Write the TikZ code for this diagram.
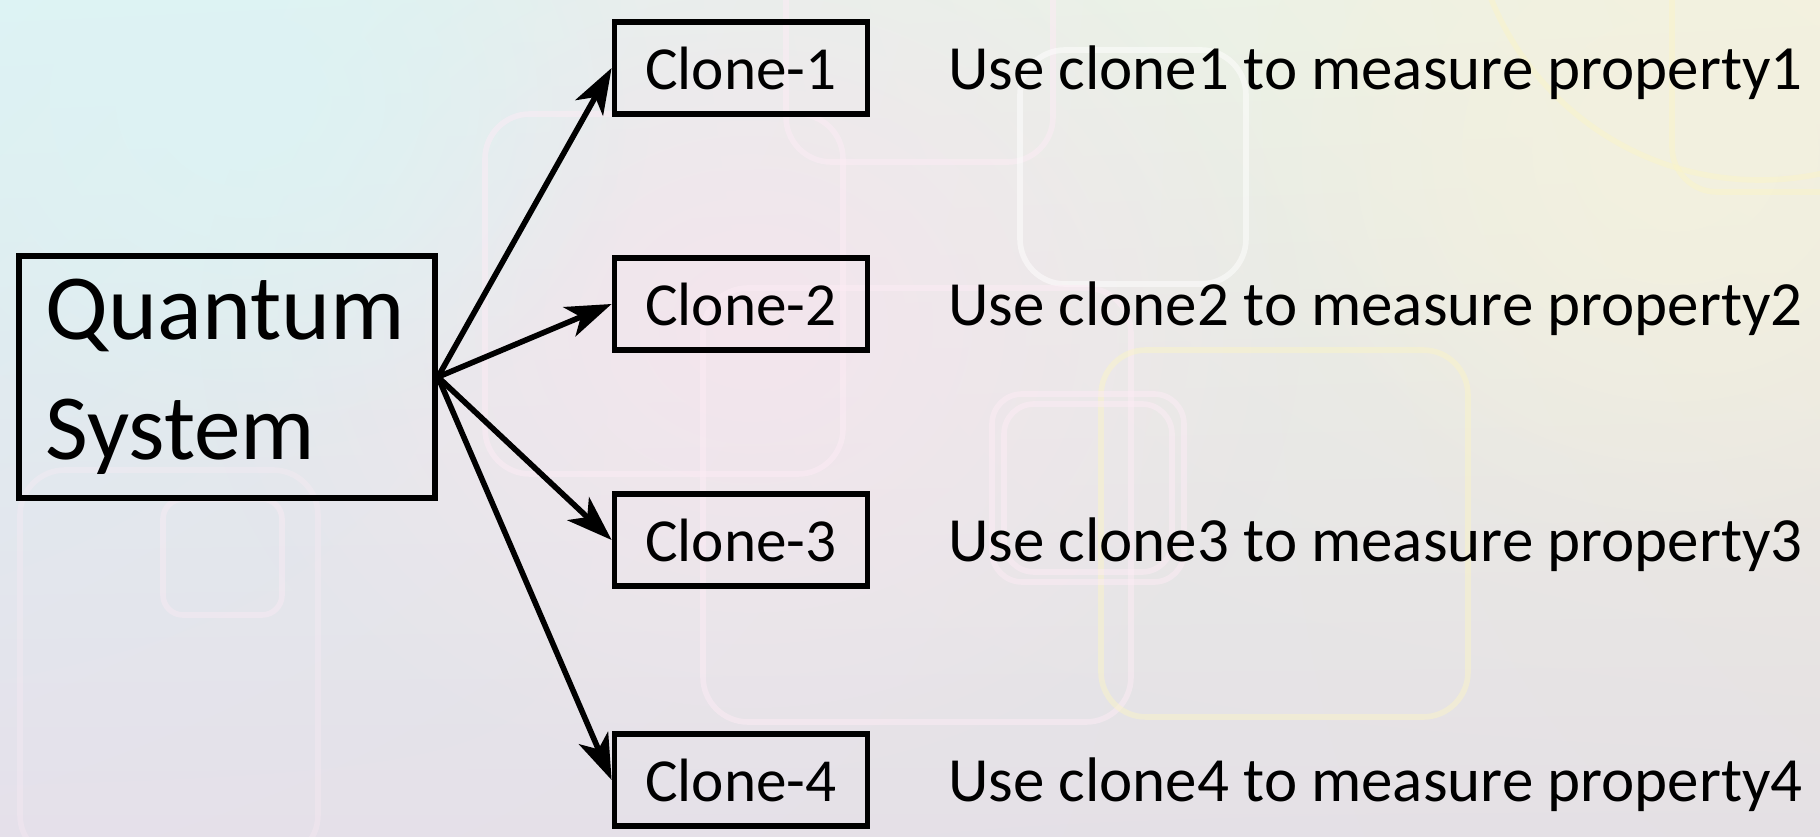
\documentclass[tikz,border=0pt]{standalone}
\usepackage{fontspec}
\setmainfont{Carlito}
\usepackage{xcolor}
\usepackage{tikz}
\definecolor{bgcyan}{RGB}{221, 243, 244}
\definecolor{bgpink}{RGB}{244, 229, 237}
\definecolor{bgcream}{RGB}{243, 241, 223}
\definecolor{bglilac}{RGB}{229, 224, 234}
\definecolor{bgmist}{RGB}{228, 224, 228}
\definecolor{glowpink}{RGB}{253, 236, 245}
\definecolor{glowgold}{RGB}{250, 244, 200}
\usetikzlibrary{shapes,arrows.meta,positioning,fadings,shadings}
\tikzfading[name=glowfade, inner color=transparent!0, outer color=transparent!100]

\begin{document}
\begin{tikzpicture}[x=0.01cm, y=-0.01cm,
    clonebox/.style={draw=black, line width=1.6pt, minimum width=2.53cm, minimum height=0.92cm, inner sep=0pt, font=\fontsize{17.4}{21}\selectfont},
    usetext/.style={anchor=base west, inner sep=0pt, font=\fontsize{17.9}{21}\selectfont},
    glowline/.style={line width=1.6pt, rounded corners=0.45cm, opacity=0.5},
    fan/.style={-{Stealth[length=13pt, width=9pt, inset=3.5pt]}, line width=1.6pt, black}]
    % background
    \useasboundingbox (0,0) rectangle (1820,837);
    \begin{scope}
    \clip (0,0) rectangle (1820,837);
    \shade[upper left=bgcyan, upper right=bgcream, lower left=bglilac, lower right=bgmist] (0,0) rectangle (1820,837);
    \fill[bgpink, path fading=glowfade] (200,-150) rectangle (1300,800);
    \fill[bgcyan, path fading=glowfade] (-150,-250) rectangle (650,450);
    \fill[bgcream, path fading=glowfade] (1250,-250) rectangle (2100,550);
    \draw[glowline, glowpink] (485,114) rectangle (843,474);
    \draw[glowline, glowpink] (786,-60) rectangle (1053,162);
    \draw[glowline, white] (1020,50) rectangle (1246,284);
    \draw[glowline, glowpink] (703,288) rectangle (1131,722);
    \draw[glowline, glowgold] (1101,350) rectangle (1468,717);
    \draw[glowline, glowpink, rounded corners=0.3cm] (992,394) rectangle (1184,582);
    \draw[glowline, glowpink, rounded corners=0.3cm] (1004,404) rectangle (1172,572);
    \draw[glowline, glowpink, rounded corners=0.2cm, opacity=0.4] (163,499) rectangle (282,615);
    \draw[glowline, glowpink, opacity=0.3] (20,470) rectangle (318,860);
    \draw[glowline, glowgold] (1672,-60) rectangle (1900,192);
    \draw[glowline, glowgold] (1760,-110) circle (290);
    \end{scope}
    % nodes
    \node[draw=black, line width=1.6pt, minimum width=4.16cm, minimum height=2.42cm, text width=3.62cm, inner xsep=0.27cm, align=left, font=\fontsize{26.5}{34.2}\selectfont] (qs) at (227,377) {Quantum\\System};
    \node[clonebox] (c1) at (741,68) {Clone-1};
    \node[clonebox] (c2) at (741,304) {Clone-2};
    \node[clonebox] (c3) at (741,540) {Clone-3};
    \node[clonebox] (c4) at (741,780) {Clone-4};
    \node[usetext] (u1) at ([xshift=0.77cm]c1.base east) {Use clone1 to measure property1};
    \node[usetext] (u2) at ([xshift=0.77cm]c2.base east) {Use clone2 to measure property2};
    \node[usetext] (u3) at ([xshift=0.77cm]c3.base east) {Use clone3 to measure property3};
    \node[usetext] (u4) at ([xshift=0.77cm]c4.base east) {Use clone4 to measure property4};
    % arrows
    \draw[fan] (qs.east) -- (c1.west);
    \draw[fan] (qs.east) -- (c2.west);
    \draw[fan] (qs.east) -- (c3.west);
    \draw[fan] (qs.east) -- (c4.west);
\end{tikzpicture}
\end{document}
